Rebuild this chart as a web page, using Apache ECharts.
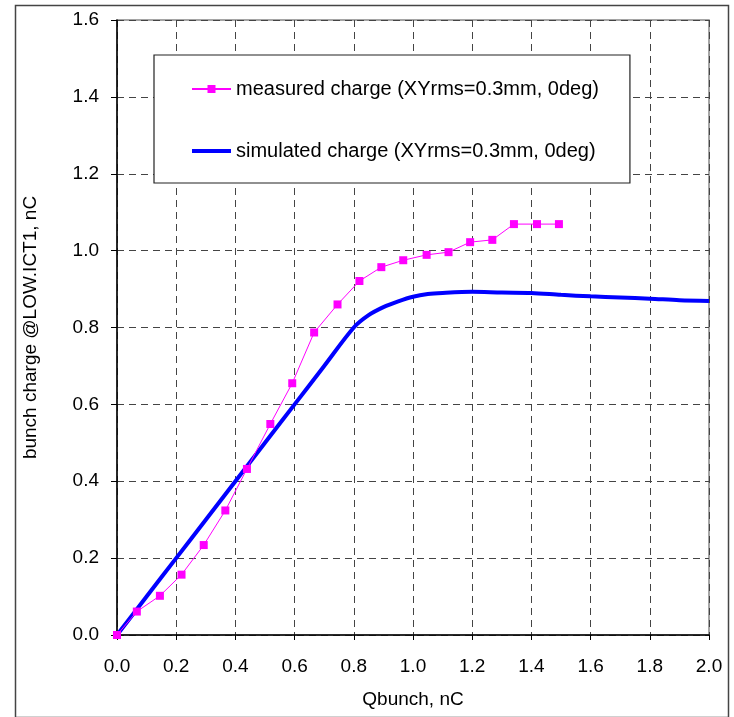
<!DOCTYPE html>
<html>
<head>
<meta charset="utf-8">
<script src="https://cdn.jsdelivr.net/npm/echarts@6/dist/echarts.min.js"></script>
<style>
html,body{margin:0;padding:0;background:#fff;}
#c{width:734px;height:717px;}
</style>
</head>
<body>
<div id="c"></div>
<script>
const measuredX = [0, 0.067, 0.145, 0.218, 0.293, 0.366, 0.439, 0.518, 0.592, 0.666, 0.745, 0.819, 0.893, 0.967, 1.046, 1.120, 1.193, 1.268, 1.341, 1.419, 1.493];
const measuredY = [0, 0.061, 0.102, 0.157, 0.234, 0.324, 0.432, 0.549, 0.655, 0.787, 0.860, 0.921, 0.957, 0.975, 0.989, 0.996, 1.022, 1.028, 1.069, 1.069, 1.069];
const simX = [0, 0.1, 0.2, 0.3, 0.4, 0.5, 0.6, 0.7, 0.8, 0.85, 0.9, 0.95, 1.0, 1.05, 1.1, 1.2, 1.3, 1.4, 1.5, 1.6, 1.7, 1.8, 1.9, 2.0];
const simY = [0, 0.1, 0.2, 0.3, 0.4, 0.5, 0.6, 0.7, 0.8, 0.832, 0.853, 0.868, 0.880, 0.887, 0.890, 0.893, 0.891, 0.890, 0.885, 0.881, 0.878, 0.875, 0.871, 0.869];
const xTicks = ['0.0','0.2','0.4','0.6','0.8','1.0','1.2','1.4','1.6','1.8','2.0'];
const yTicks = ['0.0','0.2','0.4','0.6','0.8','1.0','1.2','1.4','1.6'];

const seriesNames = ['measured charge (XYrms=0.3mm, 0deg)', 'simulated charge (XYrms=0.3mm, 0deg)'];
const font = 'Liberation Sans, Arial, sans-serif';

const chart = echarts.init(document.getElementById('c'), null, {renderer: 'canvas'});
const gridLine = {show: true, lineStyle: {color: '#444', width: 1, type: [7, 5]}};
chart.setOption({
  animation: false,
  backgroundColor: '#fff',
  grid: {left: 117, right: 25, top: 20, bottom: 82, show: true, borderColor: '#888', borderWidth: 1.5, backgroundColor: 'transparent'},
  graphic: [{
    type: 'rect', left: 13, top: 3, shape: {width: 713, height: 712},
    style: {fill: 'none', stroke: '#444', lineWidth: 1.5}, silent: true, z: -1
  }],
  legend: {
    orient: 'vertical', left: 154, top: 55,
    padding: [23, 31, 21, 36],
    itemGap: 40,
    itemWidth: 39, itemHeight: 10,
    backgroundColor: '#fff', borderColor: '#222', borderWidth: 1.2,
    textStyle: {fontFamily: font, fontSize: 20, color: '#000', lineHeight: 22},
    data: [
      {name: seriesNames[0]},
      {name: seriesNames[1], itemStyle: {opacity: 0}, lineStyle: {width: 4, color: '#0000FF'}}
    ]
  },
  xAxis: {
    type: 'value', min: 0, max: 2, interval: 0.2,
    name: 'Qbunch, nC', nameLocation: 'middle', nameGap: 55,
    nameTextStyle: {fontFamily: font, fontSize: 19, color: '#000'},
    axisLine: {show: true, lineStyle: {color: '#000', width: 1.5}},
    axisTick: {show: true, length: 5, lineStyle: {color: '#000'}},
    axisLabel: {fontFamily: font, fontSize: 19, color: '#000', margin: 22,
      formatter: (v) => xTicks[Math.round(v / 0.2)]},
    splitLine: gridLine
  },
  yAxis: {
    type: 'value', min: 0, max: 1.6, interval: 0.2,
    name: 'bunch charge @LOW.ICT1, nC', nameLocation: 'middle', nameGap: 77,
    nameTextStyle: {fontFamily: font, fontSize: 19, color: '#000'},
    axisLine: {show: true, lineStyle: {color: '#000', width: 1.5}},
    axisTick: {show: true, length: 6, lineStyle: {color: '#000'}},
    axisLabel: {fontFamily: font, fontSize: 19, color: '#000', margin: 18,
      formatter: (v) => yTicks[Math.round(v / 0.2)]},
    splitLine: gridLine
  },
  series: [
    {
      name: seriesNames[0], type: 'line',
      data: measuredX.map((x, i) => [x, measuredY[i]]),
      symbol: 'rect', symbolSize: 8,
      itemStyle: {color: '#FF00FF'},
      lineStyle: {color: '#FF00FF', width: 1},
      z: 3
    },
    {
      name: seriesNames[1], type: 'line',
      data: simX.map((x, i) => [x, simY[i]]),
      showSymbol: false, symbol: 'none', smooth: 0.3,
      itemStyle: {color: '#0000FF'},
      lineStyle: {color: '#0000FF', width: 4},
      z: 2
    }
  ]
});
</script>
</body>
</html>
